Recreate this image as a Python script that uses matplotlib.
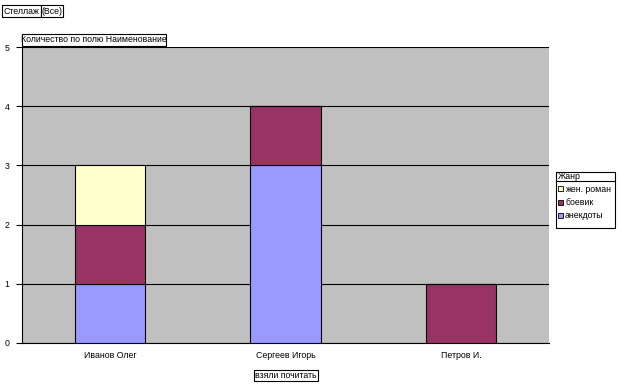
import matplotlib
matplotlib.use("Agg")
import matplotlib.pyplot as plt
from matplotlib.patches import Rectangle
from matplotlib.lines import Line2D
import numpy as np

plt.rcParams['font.family'] = ['Liberation Sans', 'DejaVu Sans']

categories = ["Иванов Олег", "Сергеев Игорь", "Петров И."]
series_names = ["анекдоты", "боевик", "жен. роман"]
anekdoty = [1, 3, 0]
boevik = [1, 1, 1]
zhen_roman = [1, 0, 0]
colors = ["#9999FF", "#993366", "#FFFFCC"]
yticks = [0, 1, 2, 3, 4, 5]

FS = 6.3
W, H = 621, 386
fig = plt.figure(figsize=(W/100, H/100), dpi=100)
fig.patch.set_facecolor("white")
ax = fig.add_axes([22/W, (H-343)/H, 527/W, 296/H])
ax.set_facecolor("#C0C0C0")

x = np.arange(len(categories))
bottom = np.zeros(len(categories))
for vals, name, c in zip([anekdoty, boevik, zhen_roman], series_names, colors):
    vals = np.array(vals, dtype=float)
    ax.bar(x, vals, bottom=bottom, width=0.4, color=c, edgecolor="black",
           linewidth=0.8, label=name, zorder=3)
    bottom += vals

ax.set_xlim(-0.5, len(categories) - 0.5)
ax.set_ylim(0, 5)
ax.set_yticks(yticks)
ax.set_yticklabels([str(t) for t in yticks], fontsize=FS)
ax.yaxis.grid(True, color="black", linewidth=0.8, zorder=1)
ax.set_axisbelow(True)
ax.set_xticks(x)
ax.set_xticklabels(categories, fontsize=FS)
ax.tick_params(axis='x', length=0, pad=6)
ax.tick_params(axis='y', length=4, width=0.8, pad=5, direction='out')
for s in ["top", "right"]:
    ax.spines[s].set_visible(False)
for s in ["left", "bottom"]:
    ax.spines[s].set_color("black")
    ax.spines[s].set_linewidth(0.8)


def px_rect(x0, y0, x1, y1, **kw):
    r = Rectangle((x0 / W, 1 - y1 / H), (x1 - x0) / W, (y1 - y0) / H,
                  transform=fig.transFigure, **kw)
    fig.patches.append(r)
    return r


def boxed_text(x0, y0, x1, y1, s):
    px_rect(x0, y0, x1, y1, facecolor="white", edgecolor="black", linewidth=0.8)
    fig.text((x0 + x1) / 2 / W, 1 - (y0 + y1) / 2 / H, s, fontsize=FS,
             ha="center", va="center")


boxed_text(2, 5, 41, 17, "Стеллаж")
boxed_text(41, 5, 63, 17, "(Все)")
boxed_text(22, 34, 166, 46, "Количество по полю Наименование")
boxed_text(254, 370, 318, 381, "взяли почитать")

# legend
lx0, ly0, lx1, ly1 = 556, 172, 615, 228
px_rect(lx0, ly0, lx1, ly1, facecolor="white", edgecolor="black", linewidth=0.8)
fig.text((lx0 + 2) / W, 1 - 176.5 / H, "Жанр", fontsize=FS, ha="left", va="center")
fig.lines.append(Line2D([lx0 / W, lx1 / W], [1 - 181 / H, 1 - 181 / H],
                        transform=fig.transFigure, color="black", linewidth=0.8))
legend_order = list(zip(series_names, colors))[::-1]
for i, (name, c) in enumerate(legend_order):
    yc = 189 + i * 13.5
    px_rect(lx0 + 2, yc - 3, lx0 + 7, yc + 2, facecolor=c, edgecolor="black", linewidth=0.6)
    fig.text((lx0 + 9) / W, 1 - yc / H, name, fontsize=FS, ha="left", va="center")

fig.savefig("out.png", dpi=100, facecolor="white")
